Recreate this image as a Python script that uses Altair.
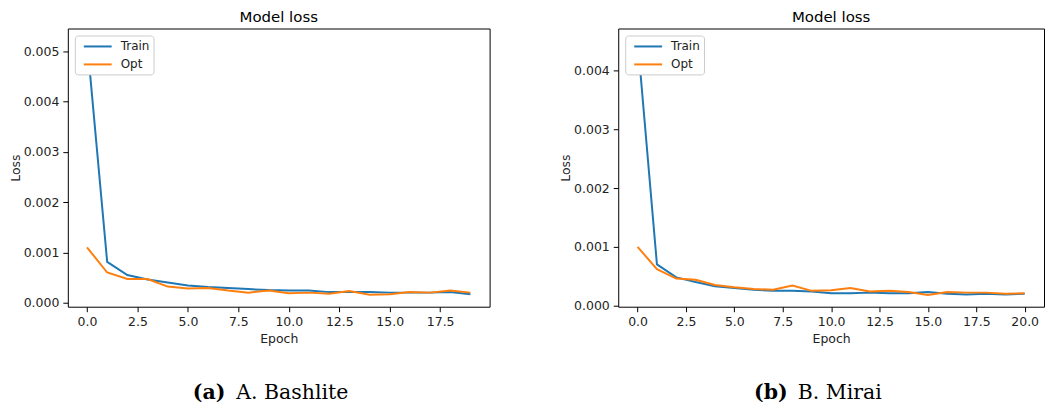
import altair as alt
import pandas as pd

# ---- data ----
series_names = ["Train", "Opt"]

bash_epochs = list(range(20))
bash_train = [0.00522, 0.00081, 0.00055, 0.00046, 0.00040, 0.00034, 0.00031, 0.00029,
              0.00027, 0.00025, 0.00024, 0.00024, 0.00021, 0.00021, 0.00021, 0.00020,
              0.00020, 0.00020, 0.00021, 0.00017]
bash_opt = [0.00110, 0.00060, 0.00047, 0.00047, 0.00032, 0.00028, 0.00029, 0.00024,
            0.00020, 0.00024, 0.00019, 0.00020, 0.00018, 0.00023, 0.00016, 0.00017,
            0.00021, 0.00020, 0.00024, 0.00020]

mirai_epochs = list(range(21))
mirai_train = [0.00453, 0.00070, 0.00048, 0.00040, 0.00033, 0.00030, 0.00027, 0.00025,
               0.00025, 0.00024, 0.00021, 0.00021, 0.00022, 0.00021, 0.00021, 0.00023,
               0.00020, 0.00019, 0.00020, 0.00019, 0.00020]
mirai_opt = [0.00100, 0.00062, 0.00046, 0.00044, 0.00035, 0.00031, 0.00028, 0.00027,
             0.00034, 0.00025, 0.00026, 0.00030, 0.00024, 0.00025, 0.00023, 0.00018,
             0.00023, 0.00022, 0.00022, 0.00020, 0.00021]

bash_xticks = [0.0, 2.5, 5.0, 7.5, 10.0, 12.5, 15.0, 17.5]
mirai_xticks = [0.0, 2.5, 5.0, 7.5, 10.0, 12.5, 15.0, 17.5, 20.0]
bash_yticks = [0.000, 0.001, 0.002, 0.003, 0.004, 0.005]
mirai_yticks = [0.000, 0.001, 0.002, 0.003, 0.004]

caption_tags = ["(a)", "(b)"]
caption_names = ["A. Bashlite", "B. Mirai"]

COLORS = ["#1f77b4", "#ff7f0e"]
W1, W2, H = 423, 427, 279


def long_df(epochs, train, opt):
    rows = []
    for name, vals in zip(series_names, [train, opt]):
        for e, v in zip(epochs, vals):
            rows.append({"Epoch": e, "Loss": v, "series": name})
    return pd.DataFrame(rows)


def panel(df, xdom, ydom, xticks, yticks, tag, name, width, tag_x, name_x):
    base = alt.Chart(df).mark_line(strokeWidth=2, clip=True).encode(
        x=alt.X("Epoch:Q",
                scale=alt.Scale(domain=xdom, nice=False, zero=False),
                axis=alt.Axis(values=xticks, format=".1f", title="Epoch")),
        y=alt.Y("Loss:Q",
                scale=alt.Scale(domain=ydom, nice=False, zero=False),
                axis=alt.Axis(values=yticks, format=".3f", title="Loss")),
        color=alt.Color("series:N",
                        scale=alt.Scale(domain=series_names, range=COLORS),
                        sort=series_names,
                        legend=alt.Legend(title=None, orient="top-left")),
    )
    cap_df = pd.DataFrame({"tag": [tag], "name": [name]})
    tag_txt = alt.Chart(cap_df).mark_text(
        font="DejaVu Serif", fontSize=20.5, fontWeight="bold", align="right",
        baseline="middle", color="#000"
    ).encode(text="tag:N", x=alt.value(tag_x), y=alt.value(H + 87))
    name_txt = alt.Chart(cap_df).mark_text(
        font="DejaVu Serif", fontSize=20.5, align="left",
        baseline="middle", color="#000"
    ).encode(text="name:N", x=alt.value(name_x), y=alt.value(H + 87))
    return alt.layer(base, tag_txt, name_txt).properties(
        width=width, height=H,
        title=alt.TitleParams("Model loss", fontSize=15, font="DejaVu Sans",
                              fontWeight="normal", color="#000", offset=4)
    )


left = panel(long_df(bash_epochs, bash_train, bash_opt),
             [-0.95, 19.95], [-0.00008, 0.00545], bash_xticks, bash_yticks,
             caption_tags[0], caption_names[0], W1, 158, 169)
right = panel(long_df(mirai_epochs, mirai_train, mirai_opt),
              [-1.0, 21.0], [-0.00002, 0.00472], mirai_xticks, mirai_yticks,
              caption_tags[1], caption_names[1], W2, 170, 180)

chart = alt.hconcat(left, right, spacing=68).resolve_scale(
    x="independent", y="independent", color="independent"
).resolve_legend(color="independent").properties(padding=0).configure_view(
    stroke="#000", strokeWidth=1
).configure_axis(
    domain=False, grid=False, tickColor="#000", tickSize=5, tickWidth=1,
    labelFont="DejaVu Sans", labelFontSize=12.5, labelColor="#222", labelPadding=4,
    titleFont="DejaVu Sans", titleFontSize=12.5, titleFontWeight="normal",
    titleColor="#222"
).configure_axisX(titlePadding=4).configure_axisY(titlePadding=1).configure_legend(
    symbolType="M-2.5,0H2.5", symbolSize=125, symbolStrokeWidth=2,
    symbolOffset=12, labelOffset=16,
    labelFont="DejaVu Sans", labelFontSize=12, labelColor="#222",
    fillColor="white", strokeColor="#ccc", cornerRadius=3, padding=4,
    offset=7, rowPadding=5
)

chart.save("out.html", embed_options={"renderer": "svg", "actions": False})
